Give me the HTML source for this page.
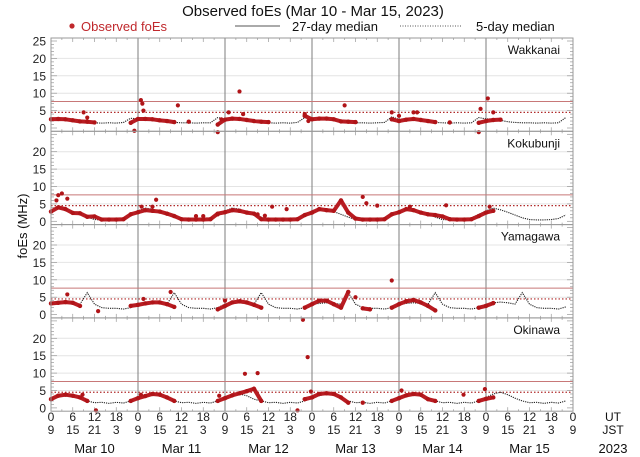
<!DOCTYPE html>
<html><head><meta charset="utf-8"><style>
body{margin:0;background:#fff;}
svg{display:block;font-family:"Liberation Sans","DejaVu Sans",sans-serif;}
</style></head><body>
<svg id="chart" width="640" height="457" viewBox="0 0 640 457" xmlns="http://www.w3.org/2000/svg">
<text x="313" y="16" font-size="15" text-anchor="middle" fill="#111">Observed foEs (Mar 10 - Mar 15, 2023)</text>
<g>
<circle cx="72" cy="26" r="2.6" fill="#c0282c"/>
<text x="81" y="31" font-size="13" fill="#c0282c">Observed foEs</text>
<line x1="235" y1="26" x2="280" y2="26" stroke="#555" stroke-width="1"/>
<text x="292" y="31" font-size="13" fill="#111">27-day median</text>
<line x1="400" y1="26" x2="462" y2="26" stroke="#555" stroke-width="1" stroke-dasharray="1 1.5"/>
<text x="476" y="31" font-size="13" fill="#111">5-day median</text>
</g>
<text x="0" y="0" font-size="13" text-anchor="middle" fill="#111" transform="translate(27,226) rotate(-90)">foEs (MHz)</text>
<g id="panels"></g>
<g id="xaxis"></g>
</svg>
<script>
const stations = ["Wakkanai","Kokubunji","Yamagawa","Okinawa"];
const dayLabels = ["Mar 10","Mar 11","Mar 12","Mar 13","Mar 14","Mar 15"];
const utLabels = ["0","6","12","18"];
const jstLabels = ["9","15","21","3"];
const yTicks = [0,5,10,15,20,25];
const refSolid = 7.6;
const refDotted = 4.5;
const N = null;
const medW = [2.4,2.6,2.6,2.4,2.0,1.6,1.5,1.4,1.5,1.4,1.6,2.8, 2.6,2.7,2.6,2.4,2.0,1.6,1.5,1.5,1.4,1.5,1.5,3.0, 2.6,2.7,2.6,2.4,2.0,1.6,1.5,1.4,1.5,1.4,1.6,3.0, 2.5,2.7,2.6,2.4,2.0,1.6,1.5,1.5,1.4,1.5,1.6,3.2, 2.5,2.7,2.6,2.4,2.0,1.6,1.5,1.4,1.5,1.4,1.5,3.0, 2.6,2.6,2.2,1.8,1.6,1.5,1.5,1.4,1.5,1.4,1.5,3.0];
const obsW = [2.5,2.6,2.5,2.2,1.9,1.8,1.6,N,N,N,N,1.5, 2.6,2.6,2.5,2.2,2.0,1.7,N,1.8,N,N,N,1.0, 2.4,2.7,2.6,2.3,2.0,1.8,1.7,N,N,N,N,3.5, 2.5,2.7,2.7,2.5,1.9,1.8,1.7,N,N,N,N,2.5, 2.0,2.4,2.6,2.3,2.0,1.7,N,1.6,N,N,N,1.5, 2.0,2.3,2.4,N,N,N,N,N,N,N,N,N];
const outHW = [9,10,23,24.8,25.2,25.5,35,46,47,49,52,53,70,71,81,94,96,100,101,118,118.5,120.5,122];
const outVW = [4.5,3,-0.8,8,7,5,6.5,-1.2,2.5,4.5,10.5,4,4,2,6.5,4.5,3.5,4.5,4.5,-1.2,5.5,8.5,4.5];
const medK = [3.0,3.8,3.5,2.8,2.0,1.2,0.5,0.4,0.4,0.5,1.0,2.0, 3.0,3.8,3.5,2.8,2.0,1.2,0.5,0.4,0.4,0.5,1.0,2.0, 3.0,3.8,3.5,2.8,2.0,1.2,0.5,0.4,0.4,0.5,1.0,2.0, 3.0,3.8,3.5,2.8,2.0,1.2,0.5,0.4,0.4,0.5,1.0,2.0, 3.0,3.8,3.5,2.8,2.0,1.2,0.5,0.4,0.4,0.5,1.0,2.0, 3.0,3.8,3.3,2.6,1.8,1.0,0.5,0.4,0.4,0.5,0.8,1.8];
const obsK = [2.8,4.0,3.5,2.4,2.3,1.3,1.4,0.5,0.5,0.5,0.6,2.0, 2.6,3.2,3.0,2.8,2.2,1.5,0.6,0.5,0.5,0.5,0.6,2.2, 2.6,3.2,3.0,2.5,2.2,0.6,0.5,0.5,0.5,0.5,0.6,1.8, 2.5,3.5,3.2,3.0,6.0,2.5,0.8,0.5,0.5,0.5,0.6,2.0, 2.6,3.5,3.2,2.5,2.0,1.8,1.4,0.6,0.5,0.5,0.6,1.5, 2.5,3.0,N,N,N,N,N,N,N,N,N,N];
const outHK = [1.5,2,3,4.5,25,28,29,40,42,46,57,59,61,65,86,87,90,99,109,121];
const outVK = [6,7.5,8,6.5,4.2,4.2,6.2,1.5,1.5,2,2,1.6,4.2,3.5,7,5.2,4.5,4.2,4.6,4.2];
const medY = [3.0,3.2,3.4,3.2,3.0,6.3,3.0,2.0,1.8,1.8,1.6,2.0, 3.0,3.2,3.4,3.2,3.0,6.3,3.0,2.0,1.8,1.8,1.6,2.0, 3.0,3.2,3.4,3.2,3.0,6.3,3.0,2.0,1.8,1.8,1.6,2.0, 3.0,3.2,3.4,3.2,3.0,6.3,3.0,2.0,1.8,1.8,1.6,2.0, 3.0,3.2,3.4,3.2,3.0,6.3,3.0,2.0,1.8,1.8,1.6,2.0, 3.0,3.4,3.6,3.4,3.0,6.3,3.0,2.0,1.8,1.8,1.6,2.2];
const obsY = [3.2,3.4,3.6,3.4,2.5,N,N,N,N,N,N,2.5, 2.8,3.2,3.5,3.5,3.0,2.2,N,N,N,N,N,1.5, 2.5,3.5,3.8,3.5,2.8,2.0,N,N,N,N,N,2.0, 3.0,4.0,4.0,3.0,2.0,6.5,N,1.8,1.5,N,N,2.0, 3.0,3.8,4.2,3.5,2.5,1.2,N,N,N,N,N,2.0, 2.5,3.3,N,N,N,N,N,N,N,N,N,N];
const outHY = [4.5,13,25.5,33,48,69.5,84,94];
const outVY = [5.8,1,4.5,6.5,4,-1.5,5,9.8];
const medO = [2.8,3.5,4.0,3.8,3.0,2.0,1.5,1.6,1.3,1.6,1.4,2.0, 2.8,3.5,4.0,3.8,3.0,2.0,1.5,1.6,1.3,1.6,1.4,2.0, 2.8,3.5,4.0,3.5,2.5,2.0,1.5,1.6,1.3,1.6,1.4,2.0, 2.8,3.5,4.0,3.8,3.0,2.0,1.5,1.6,1.3,1.6,1.4,2.0, 2.8,3.5,4.0,3.8,3.0,2.0,1.5,1.6,1.3,1.6,1.4,2.0, 3.0,4.0,4.5,3.8,2.8,2.0,1.5,1.6,1.3,1.6,1.4,2.0];
const obsO = [2.5,3.5,3.8,3.5,3.0,2.0,N,N,N,N,N,2.0, 2.8,3.4,4.0,3.8,3.0,2.0,N,N,N,N,N,2.0, 2.8,3.6,4.2,4.8,5.5,2.0,N,N,N,N,N,2.5, 3.0,4.0,4.2,4.0,3.0,1.5,N,1.5,N,N,N,2.0, 2.8,3.6,4.0,3.8,2.5,2.0,N,N,N,N,N,2.0, 2.6,3.0,N,N,N,N,N,N,N,N,N,N];
const outHO = [8.7,12.4,24.8,46.4,53.5,57,68,70.8,71.7,96.7,113.8,119.7];
const outVO = [3.8,-0.7,3.8,3.5,9.8,10.0,-0.7,14.6,4.7,5.0,3.8,5.4];
const medians = [medW,medK,medY,medO];
const observed = [obsW,obsK,obsY,obsO];
const outHours = [outHW,outHK,outHY,outHO];
const outVals = [outVW,outVK,outVY,outVO];

const NS = "http://www.w3.org/2000/svg";
const X0 = 51, X1 = 573, TOP = 38, PH = 93.3, HOURS = 144;
const xs = h => X0 + (X1 - X0) * h / HOURS;
const ys = (p, v) => TOP + p * PH + 90 - v * 3.48;
function mk(tag, attrs, parent) {
  const e = document.createElementNS(NS, tag);
  for (const k in attrs) e.setAttribute(k, attrs[k]);
  parent.appendChild(e);
  return e;
}
const panels = document.getElementById("panels");
stations.forEach((st, p) => {
  const g = mk("g", {}, panels);
  
  
  const top = TOP + p * PH, bot = top + PH;
  [5,10,15,20].forEach(v => {
    const l = mk("line", {x1: X0, x2: X1, y1: ys(p, v), y2: ys(p, v), stroke: "#e4e4e4", "stroke-width": 1}, g);
    
    
  });
  for (let v = -1; v <= 25; v++) {
    const y = ys(p, v);
    if (y < top + 1 || y > bot - 1) continue;
    const len = v % 5 === 0 ? 6 : 3;
    mk("line", {x1: X0, x2: X0 + len, y1: y, y2: y, stroke: "#999", "stroke-width": 0.7}, g);
    mk("line", {x1: X1 - len, x2: X1, y1: y, y2: y, stroke: "#999", "stroke-width": 0.7}, g);
  }
  for (let h = 0; h <= HOURS; h += 3) {
    const len = h % 6 === 0 ? 4 : 2;
    mk("line", {x1: xs(h), x2: xs(h), y1: top, y2: top + len, stroke: "#999", "stroke-width": 0.7}, g);
    mk("line", {x1: xs(h), x2: xs(h), y1: bot - len, y2: bot, stroke: "#999", "stroke-width": 0.7}, g);
  }
  yTicks.forEach(v => {
    if (p > 0 && v === 25) return;
    const t = mk("text", {x: X0 - 5, y: ys(p, v) + 4.5, "font-size": 12, "text-anchor": "end", fill: "#222"}, g);
    
    
    t.textContent = v;
  });
  for (let d = 1; d < 6; d++) {
    const l = mk("line", {x1: xs(d * 24), x2: xs(d * 24), y1: top, y2: bot, stroke: "#888", "stroke-width": 1.1}, g);
    
    
  }
  const rs = mk("line", {x1: X0, x2: X1, y1: ys(p, refSolid), y2: ys(p, refSolid), stroke: "#c87878", "stroke-width": 1}, g);
  
  
  const rd = mk("line", {x1: X0, x2: X1, y1: ys(p, refDotted), y2: ys(p, refDotted), stroke: "#b02a2a", "stroke-width": 1.2, "stroke-dasharray": "1.5 2"}, g);
  
  
  const med = medians[p];
  const mpts = med.map((v, i) => xs(i * 2) + "," + ys(p, v)).join(" ");
  const ml = mk("polyline", {points: mpts, fill: "none", stroke: "#222", "stroke-width": 1.1, "stroke-dasharray": "1.2 1"}, g);
  
  
  const obs = observed[p];
  let seg = [];
  const flush = () => {
    if (seg.length > 1) {
      const pl = mk("polyline", {points: seg.join(" "), fill: "none", stroke: "#b81c22", "stroke-width": 4, "stroke-linejoin": "round", "stroke-linecap": "round"}, g);
      
      
    }
    seg = [];
  };
  obs.forEach((v, i) => {
    if (v === null) { flush(); return; }
    seg.push(xs(i * 2) + "," + ys(p, v));
  });
  flush();
  obs.forEach((v, i) => {
    if (v === null) return;
    const c = mk("circle", {cx: xs(i * 2), cy: ys(p, v), r: 2.2, fill: "#b01418"}, g);
    
    
  });
  outHours[p].forEach((h, i) => {
    const c = mk("circle", {cx: xs(h), cy: ys(p, outVals[p][i]), r: 2.1, fill: "#b01418"}, g);
    
    
  });
  const fr = mk("rect", {x: X0, y: top, width: X1 - X0, height: PH, fill: "none", stroke: "#999", "stroke-width": 1}, g);
  
  
  const lab = mk("text", {x: 560, y: top + 16, "font-size": 12, "text-anchor": "end", fill: "#111"}, g);
  
  
  lab.textContent = st;
});
const xa = document.getElementById("xaxis");
for (let d = 0; d <= 6; d++) {
  for (let k = 0; k < 4; k++) {
    if (d === 6 && k > 0) break;
    const h = d * 24 + k * 6;
    const u = mk("text", {x: xs(h), y: 421, "font-size": 12, "text-anchor": "middle", fill: "#222"}, xa);
    
    
    u.textContent = utLabels[k];
    const j = mk("text", {x: xs(h), y: 434, "font-size": 12, "text-anchor": "middle", fill: "#222"}, xa);
    
    
    j.textContent = jstLabels[k];
  }
}
dayLabels.forEach((s, d) => {
  const t = mk("text", {x: xs(d * 24 + 12), y: 453, "font-size": 13, "text-anchor": "middle", fill: "#111"}, xa);
  
  
  t.textContent = s;
});
[["UT", 421, 12, "ut-label"], ["JST", 434, 12, "jst-label"], ["2023", 453, 13, "year-label"]].forEach(a => {
  const t = mk("text", {x: 613, y: a[1], "font-size": a[2], "text-anchor": "middle", fill: "#111"}, xa);
  
  
  t.textContent = a[0];
});
</script>
</body></html>
